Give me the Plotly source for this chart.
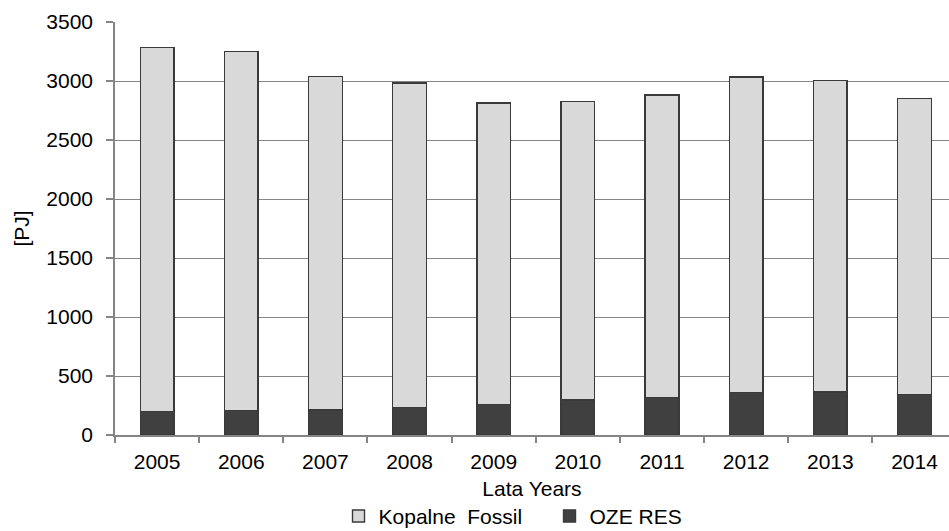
import plotly.graph_objects as go

# Primary energy supply in Poland, split into fossil fuels and renewables [PJ]
years = ["2005", "2006", "2007", "2008", "2009", "2010", "2011", "2012", "2013", "2014"]
oze_res = [199, 207, 213, 233, 258, 295, 317, 362, 365, 343]
kopalne_fossil = [3083, 3045, 2824, 2751, 2556, 2530, 2565, 2672, 2641, 2511]
y_ticks = [0, 500, 1000, 1500, 2000, 2500, 3000, 3500]

FONT = "Liberation Sans, Arial, sans-serif"
GRID = "#858585"
OUTLINE = "#3a3a3a"

fig = go.Figure()
fig.add_trace(go.Bar(
    x=years, y=oze_res, name="OZE RES",
    marker=dict(color="#404040", line=dict(color=OUTLINE, width=1.4)),
    width=0.4, legendrank=2,
))
fig.add_trace(go.Bar(
    x=years, y=kopalne_fossil, name="Kopalne  Fossil",
    marker=dict(color="#d9d9d9", line=dict(color=OUTLINE, width=1.4)),
    width=0.4, legendrank=1,
))

fig.update_layout(
    width=949, height=531,
    barmode="stack",
    plot_bgcolor="white", paper_bgcolor="white",
    margin=dict(l=115, r=0, t=22, b=96, autoexpand=False),
    font=dict(family=FONT, size=21, color="#000000"),
    showlegend=True,
    legend=dict(
        orientation="h", x=0.268, xanchor="left", y=-0.197, yanchor="middle",
        font=dict(size=21), entrywidth=166, entrywidthmode="pixels",
        traceorder="normal", bgcolor="rgba(0,0,0,0)",
    ),
    xaxis=dict(
        type="category", range=[-0.5, 9.41],
        showline=True, linecolor=GRID, linewidth=1.5,
        ticks="outside", tickson="boundaries", ticklen=6, tickcolor=GRID, tickwidth=1.5,
        ticklabelstandoff=7,
        showgrid=False, automargin=False,
        title=dict(text="Lata Years", standoff=9, font=dict(size=21)),
    ),
    yaxis=dict(
        range=[0, 3500], tickvals=y_ticks,
        showline=True, linecolor=GRID, linewidth=1.5,
        ticks="outside", ticklen=7, tickcolor=GRID, tickwidth=1.5,
        ticklabelstandoff=9,
        showgrid=True, gridcolor=GRID, gridwidth=1.2,
        zeroline=False, automargin=False,
        title=dict(text="[PJ]", standoff=11, font=dict(size=21)),
    ),
)

fig.write_html("out.html")
